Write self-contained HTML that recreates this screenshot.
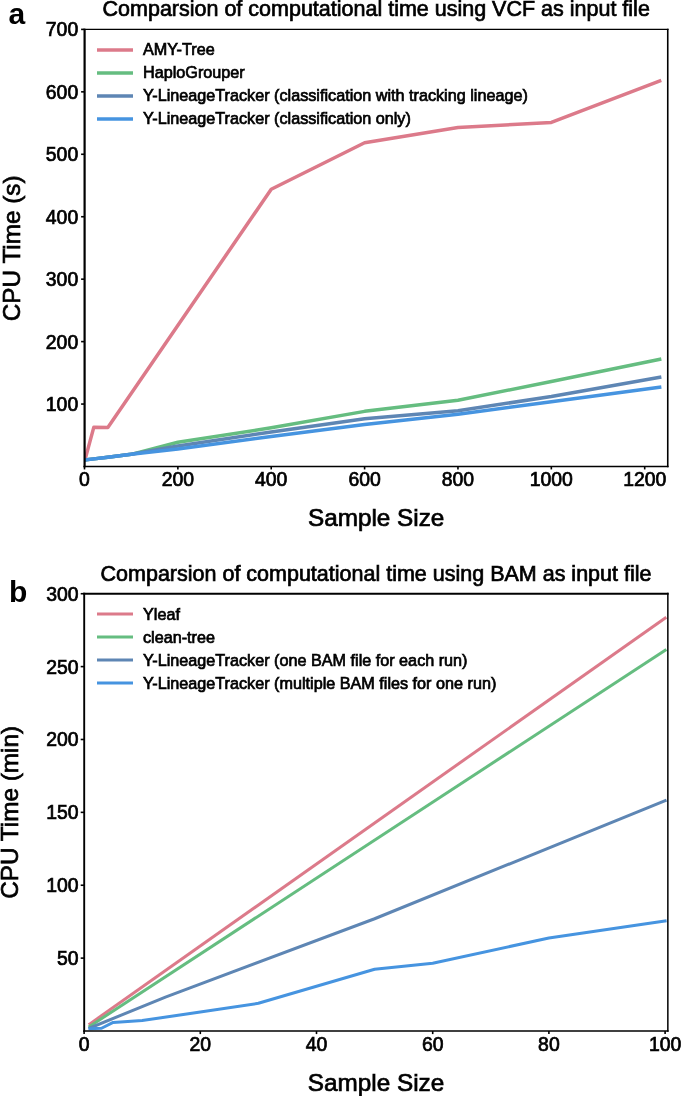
<!DOCTYPE html><html><head><meta charset="utf-8"><style>html,body{margin:0;padding:0;background:#fff;overflow:hidden}svg{display:block;will-change:transform}</style></head><body>
<svg width="685" height="1096" viewBox="0 0 685 1096">
<rect width="685" height="1096" fill="#fff"/>
<text x="8.5" y="24.3" font-family="Liberation Sans" font-size="30" font-weight="bold">a</text>
<text x="376.2" y="16.0" font-family="Liberation Sans" stroke="#000" stroke-width="0.7" font-size="21.5" text-anchor="middle">Comparsion of computational time using VCF as input file</text>
<clipPath id="clipa"><rect x="84.6" y="29.45" width="583.15" height="437.0"/></clipPath>
<g clip-path="url(#clipa)">
<polyline points="84.97,459.94 93.84,427.16 107.84,427.47 271.23,189.25 364.60,142.73 457.96,127.43 551.33,122.44 659.63,80.91" fill="none" stroke="#DC7A8A" stroke-width="3.5" stroke-linejoin="round" stroke-linecap="square"/>
<polyline points="84.97,459.94 93.84,458.88 107.84,457.20 131.18,454.32 177.87,442.27 271.23,427.79 364.60,411.36 457.96,400.19 551.33,381.58 659.63,359.29" fill="none" stroke="#65BD80" stroke-width="3.5" stroke-linejoin="round" stroke-linecap="square"/>
<polyline points="84.97,459.94 93.84,458.88 107.84,457.20 131.18,454.32 177.87,446.08 271.23,431.91 364.60,418.73 457.96,410.74 551.33,396.50 659.63,377.39" fill="none" stroke="#5E86B4" stroke-width="3.5" stroke-linejoin="round" stroke-linecap="square"/>
<polyline points="84.97,459.94 93.84,458.88 107.84,457.20 131.18,454.32 177.87,449.02 271.23,436.53 364.60,424.48 457.96,414.17 551.33,401.81 659.63,387.32" fill="none" stroke="#4694E0" stroke-width="3.5" stroke-linejoin="round" stroke-linecap="square"/>
</g>
<line x1="83.5" y1="29.45" x2="668.55" y2="29.45" stroke="#000" stroke-width="1.3"/>
<line x1="83.5" y1="466.45" x2="668.55" y2="466.45" stroke="#000" stroke-width="1.4"/>
<line x1="84.6" y1="28.8" x2="84.6" y2="467.15" stroke="#000" stroke-width="2.2"/>
<line x1="667.75" y1="28.8" x2="667.75" y2="467.15" stroke="#000" stroke-width="1.6"/>
<line x1="81.1" y1="404.06" x2="84.6" y2="404.06" stroke="#000" stroke-width="1.6"/>
<text x="78.2" y="411.06" font-family="Liberation Sans" stroke="#000" stroke-width="0.7" font-size="19.4" text-anchor="end">100</text>
<line x1="81.1" y1="341.61" x2="84.6" y2="341.61" stroke="#000" stroke-width="1.6"/>
<text x="78.2" y="348.61" font-family="Liberation Sans" stroke="#000" stroke-width="0.7" font-size="19.4" text-anchor="end">200</text>
<line x1="81.1" y1="279.17" x2="84.6" y2="279.17" stroke="#000" stroke-width="1.6"/>
<text x="78.2" y="286.17" font-family="Liberation Sans" stroke="#000" stroke-width="0.7" font-size="19.4" text-anchor="end">300</text>
<line x1="81.1" y1="216.73" x2="84.6" y2="216.73" stroke="#000" stroke-width="1.6"/>
<text x="78.2" y="223.73" font-family="Liberation Sans" stroke="#000" stroke-width="0.7" font-size="19.4" text-anchor="end">400</text>
<line x1="81.1" y1="154.28" x2="84.6" y2="154.28" stroke="#000" stroke-width="1.6"/>
<text x="78.2" y="161.28" font-family="Liberation Sans" stroke="#000" stroke-width="0.7" font-size="19.4" text-anchor="end">500</text>
<line x1="81.1" y1="91.84" x2="84.6" y2="91.84" stroke="#000" stroke-width="1.6"/>
<text x="78.2" y="98.84" font-family="Liberation Sans" stroke="#000" stroke-width="0.7" font-size="19.4" text-anchor="end">600</text>
<line x1="81.1" y1="29.40" x2="84.6" y2="29.40" stroke="#000" stroke-width="1.6"/>
<text x="78.2" y="36.40" font-family="Liberation Sans" stroke="#000" stroke-width="0.7" font-size="19.4" text-anchor="end">700</text>
<line x1="84.50" y1="466.45" x2="84.50" y2="469.45" stroke="#000" stroke-width="1.6"/>
<text x="84.50" y="486.4" font-family="Liberation Sans" stroke="#000" stroke-width="0.7" font-size="19.4" text-anchor="middle">0</text>
<line x1="177.87" y1="466.45" x2="177.87" y2="469.45" stroke="#000" stroke-width="1.6"/>
<text x="177.87" y="486.4" font-family="Liberation Sans" stroke="#000" stroke-width="0.7" font-size="19.4" text-anchor="middle">200</text>
<line x1="271.23" y1="466.45" x2="271.23" y2="469.45" stroke="#000" stroke-width="1.6"/>
<text x="271.23" y="486.4" font-family="Liberation Sans" stroke="#000" stroke-width="0.7" font-size="19.4" text-anchor="middle">400</text>
<line x1="364.60" y1="466.45" x2="364.60" y2="469.45" stroke="#000" stroke-width="1.6"/>
<text x="364.60" y="486.4" font-family="Liberation Sans" stroke="#000" stroke-width="0.7" font-size="19.4" text-anchor="middle">600</text>
<line x1="457.96" y1="466.45" x2="457.96" y2="469.45" stroke="#000" stroke-width="1.6"/>
<text x="457.96" y="486.4" font-family="Liberation Sans" stroke="#000" stroke-width="0.7" font-size="19.4" text-anchor="middle">800</text>
<line x1="551.33" y1="466.45" x2="551.33" y2="469.45" stroke="#000" stroke-width="1.6"/>
<text x="551.33" y="486.4" font-family="Liberation Sans" stroke="#000" stroke-width="0.7" font-size="19.4" text-anchor="middle">1000</text>
<line x1="644.70" y1="466.45" x2="644.70" y2="469.45" stroke="#000" stroke-width="1.6"/>
<text x="644.70" y="486.4" font-family="Liberation Sans" stroke="#000" stroke-width="0.7" font-size="19.4" text-anchor="middle">1200</text>
<text x="376.18" y="525.6" font-family="Liberation Sans" stroke="#000" stroke-width="0.7" font-size="24.3" text-anchor="middle">Sample Size</text>
<text transform="translate(19.8,248.3) rotate(-90)" x="0" y="0" font-family="Liberation Sans" stroke="#000" stroke-width="0.7" font-size="24.3" text-anchor="middle">CPU Time (s)</text>
<line x1="97" y1="50.00" x2="133" y2="50.00" stroke="#DC7A8A" stroke-width="3.6"/>
<text x="143" y="55.00" font-family="Liberation Sans" stroke="#000" stroke-width="0.7" font-size="16.2">AMY-Tree</text>
<line x1="97" y1="73.00" x2="133" y2="73.00" stroke="#65BD80" stroke-width="3.6"/>
<text x="143" y="78.00" font-family="Liberation Sans" stroke="#000" stroke-width="0.7" font-size="16.2">HaploGrouper</text>
<line x1="97" y1="96.00" x2="133" y2="96.00" stroke="#5E86B4" stroke-width="3.6"/>
<text x="143" y="101.00" font-family="Liberation Sans" stroke="#000" stroke-width="0.7" font-size="16.2">Y-LineageTracker (classification with tracking lineage)</text>
<line x1="97" y1="119.00" x2="133" y2="119.00" stroke="#4694E0" stroke-width="3.6"/>
<text x="143" y="124.00" font-family="Liberation Sans" stroke="#000" stroke-width="0.7" font-size="16.2">Y-LineageTracker (classification only)</text>
<text x="9.0" y="601.5" font-family="Liberation Sans" font-size="30" font-weight="bold">b</text>
<text x="376.0" y="581.0" font-family="Liberation Sans" stroke="#000" stroke-width="0.7" font-size="21.5" text-anchor="middle">Comparsion of computational time using BAM as input file</text>
<clipPath id="clipb"><rect x="84.2" y="593.7" width="583.65" height="437.39999999999986"/></clipPath>
<g clip-path="url(#clipb)">
<polyline points="89.91,1023.86 665.10,618.06" fill="none" stroke="#DC7A8A" stroke-width="3.0" stroke-linejoin="round" stroke-linecap="square"/>
<polyline points="89.91,1026.19 665.10,650.27" fill="none" stroke="#65BD80" stroke-width="3.0" stroke-linejoin="round" stroke-linecap="square"/>
<polyline points="89.91,1027.94 165.44,997.04 374.60,918.76 665.10,800.70" fill="none" stroke="#5E86B4" stroke-width="3.0" stroke-linejoin="round" stroke-linecap="square"/>
<polyline points="89.91,1028.67 101.53,1028.23 113.15,1022.40 142.20,1020.51 200.30,1012.05 258.40,1003.31 374.60,969.20 432.70,963.22 548.90,938.01 665.10,920.95" fill="none" stroke="#4694E0" stroke-width="3.0" stroke-linejoin="round" stroke-linecap="square"/>
</g>
<line x1="83.25" y1="593.7" x2="668.6" y2="593.7" stroke="#000" stroke-width="1.9"/>
<line x1="83.25" y1="1031.1" x2="668.6" y2="1031.1" stroke="#000" stroke-width="1.5"/>
<line x1="84.2" y1="592.75" x2="84.2" y2="1031.85" stroke="#000" stroke-width="1.9"/>
<line x1="667.85" y1="592.75" x2="667.85" y2="1031.85" stroke="#000" stroke-width="1.5"/>
<line x1="80.7" y1="958.12" x2="84.2" y2="958.12" stroke="#000" stroke-width="1.6"/>
<text x="78.6" y="965.12" font-family="Liberation Sans" stroke="#000" stroke-width="0.7" font-size="19.4" text-anchor="end">50</text>
<line x1="80.7" y1="885.24" x2="84.2" y2="885.24" stroke="#000" stroke-width="1.6"/>
<text x="78.6" y="892.24" font-family="Liberation Sans" stroke="#000" stroke-width="0.7" font-size="19.4" text-anchor="end">100</text>
<line x1="80.7" y1="812.36" x2="84.2" y2="812.36" stroke="#000" stroke-width="1.6"/>
<text x="78.6" y="819.36" font-family="Liberation Sans" stroke="#000" stroke-width="0.7" font-size="19.4" text-anchor="end">150</text>
<line x1="80.7" y1="739.48" x2="84.2" y2="739.48" stroke="#000" stroke-width="1.6"/>
<text x="78.6" y="746.48" font-family="Liberation Sans" stroke="#000" stroke-width="0.7" font-size="19.4" text-anchor="end">200</text>
<line x1="80.7" y1="666.60" x2="84.2" y2="666.60" stroke="#000" stroke-width="1.6"/>
<text x="78.6" y="673.60" font-family="Liberation Sans" stroke="#000" stroke-width="0.7" font-size="19.4" text-anchor="end">250</text>
<line x1="80.7" y1="593.72" x2="84.2" y2="593.72" stroke="#000" stroke-width="1.6"/>
<text x="78.6" y="600.72" font-family="Liberation Sans" stroke="#000" stroke-width="0.7" font-size="19.4" text-anchor="end">300</text>
<line x1="84.10" y1="1031.1" x2="84.10" y2="1034.1" stroke="#000" stroke-width="1.6"/>
<text x="84.10" y="1050.5" font-family="Liberation Sans" stroke="#000" stroke-width="0.7" font-size="19.4" text-anchor="middle">0</text>
<line x1="200.30" y1="1031.1" x2="200.30" y2="1034.1" stroke="#000" stroke-width="1.6"/>
<text x="200.30" y="1050.5" font-family="Liberation Sans" stroke="#000" stroke-width="0.7" font-size="19.4" text-anchor="middle">20</text>
<line x1="316.50" y1="1031.1" x2="316.50" y2="1034.1" stroke="#000" stroke-width="1.6"/>
<text x="316.50" y="1050.5" font-family="Liberation Sans" stroke="#000" stroke-width="0.7" font-size="19.4" text-anchor="middle">40</text>
<line x1="432.70" y1="1031.1" x2="432.70" y2="1034.1" stroke="#000" stroke-width="1.6"/>
<text x="432.70" y="1050.5" font-family="Liberation Sans" stroke="#000" stroke-width="0.7" font-size="19.4" text-anchor="middle">60</text>
<line x1="548.90" y1="1031.1" x2="548.90" y2="1034.1" stroke="#000" stroke-width="1.6"/>
<text x="548.90" y="1050.5" font-family="Liberation Sans" stroke="#000" stroke-width="0.7" font-size="19.4" text-anchor="middle">80</text>
<line x1="665.10" y1="1031.1" x2="665.10" y2="1034.1" stroke="#000" stroke-width="1.6"/>
<text x="665.10" y="1050.5" font-family="Liberation Sans" stroke="#000" stroke-width="0.7" font-size="19.4" text-anchor="middle">100</text>
<text x="376.03" y="1090.6" font-family="Liberation Sans" stroke="#000" stroke-width="0.7" font-size="24.3" text-anchor="middle">Sample Size</text>
<text transform="translate(17.8,812.4) rotate(-90)" x="0" y="0" font-family="Liberation Sans" stroke="#000" stroke-width="0.7" font-size="24.3" text-anchor="middle">CPU Time (min)</text>
<line x1="97" y1="614.00" x2="133" y2="614.00" stroke="#DC7A8A" stroke-width="2.8"/>
<text x="143" y="619.70" font-family="Liberation Sans" stroke="#000" stroke-width="0.7" font-size="16.2">Yleaf</text>
<line x1="97" y1="637.00" x2="133" y2="637.00" stroke="#65BD80" stroke-width="2.8"/>
<text x="143" y="642.70" font-family="Liberation Sans" stroke="#000" stroke-width="0.7" font-size="16.2">clean-tree</text>
<line x1="97" y1="660.00" x2="133" y2="660.00" stroke="#5E86B4" stroke-width="2.8"/>
<text x="143" y="665.70" font-family="Liberation Sans" stroke="#000" stroke-width="0.7" font-size="16.2">Y-LineageTracker (one BAM file for each run)</text>
<line x1="97" y1="683.00" x2="133" y2="683.00" stroke="#4694E0" stroke-width="2.8"/>
<text x="143" y="688.70" font-family="Liberation Sans" stroke="#000" stroke-width="0.7" font-size="16.2">Y-LineageTracker (multiple BAM files for one run)</text>
</svg></body></html>
